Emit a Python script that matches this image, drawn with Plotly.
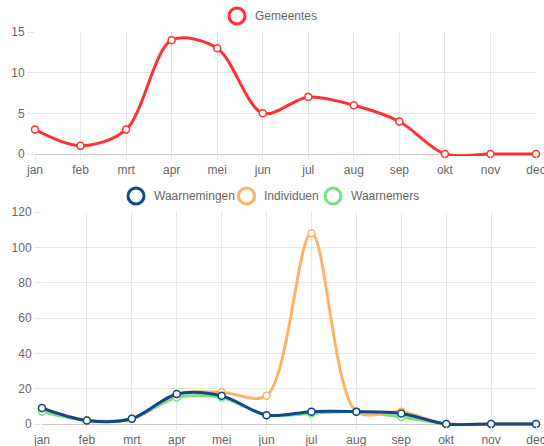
import plotly.graph_objects as go

months = ["jan", "feb", "mrt", "apr", "mei", "jun", "jul", "aug", "sep", "okt", "nov", "dec"]
gemeentes = [3, 1, 3, 14, 13, 5, 7, 6, 4, 0, 0, 0]
waarnemingen = [9, 2, 3, 17, 16, 5, 7, 7, 6, 0, 0, 0]
individuen = [9, 2, 3, 17, 18, 16, 108, 7, 7, 0, 0, 0]
waarnemers = [7, 2, 3, 15, 15, 5, 6, 7, 4, 0, 0, 0]

top_legend = ["Gemeentes"]
bottom_legend = ["Waarnemingen", "Individuen", "Waarnemers"]

RED = "#ff3030"
BLUE = "#0b4a8b"
ORANGE = "#ffb266"
GREEN = "#80dc80"
GRID = "#e6e6e6"
FONT = "Liberation Sans"
TXT = "#666666"

W = 544.0
H = 446.0


def px(x):
    return x / W


def py(y):
    return 1 - y / H


fig = go.Figure()


def line(x, y, color, xa, ya):
    return go.Scatter(
        x=x, y=y, mode="lines+markers", xaxis=xa, yaxis=ya,
        line=dict(color=color, width=3, shape="spline", smoothing=0.9),
        marker=dict(size=7, color="white", line=dict(color=color, width=1.5)),
        showlegend=False, cliponaxis=False, hoverinfo="x+y",
    )


fig.add_trace(line(months, gemeentes, RED, "x", "y"))
fig.add_trace(line(months, waarnemers, GREEN, "x2", "y2"))
fig.add_trace(line(months, individuen, ORANGE, "x2", "y2"))
fig.add_trace(line(months, waarnemingen, BLUE, "x2", "y2"))

# manual legends (Chart.js style hollow circles)
legend_items = [
    (top_legend[0], RED, 237, 16, 253),
    (bottom_legend[0], BLUE, 136, 196, 152),
    (bottom_legend[1], ORANGE, 246.5, 196, 262),
    (bottom_legend[2], GREEN, 333, 196, 349),
]
shapes = []
annotations = []
for name, color, cx, cy, tx in legend_items:
    shapes.append(dict(
        type="circle", xref="paper", yref="paper", xsizemode="pixel", ysizemode="pixel",
        xanchor=px(cx), yanchor=py(cy), x0=-8, x1=8, y0=-8, y1=8,
        line=dict(color=color, width=3), fillcolor="rgba(0,0,0,0)",
    ))
    annotations.append(dict(
        text=name, xref="paper", yref="paper", x=px(tx), y=py(cy),
        xanchor="left", yanchor="middle", showarrow=False,
        font=dict(family=FONT, size=12, color=TXT),
    ))

axis_common = dict(
    showgrid=True, gridcolor=GRID, gridwidth=1,
    ticks="outside", tickcolor=GRID,
    tickfont=dict(family=FONT, size=12, color=TXT),
    showline=False, zeroline=False, fixedrange=True, automargin=False,
)
xax = {**axis_common, "ticklen": 3}
yax = {**axis_common, "ticklen": 7, "zeroline": True, "zerolinecolor": "#c8c8c8",
       "zerolinewidth": 1}

# extend each plot area 2px below the zero line so lines at 0 are not half clipped
PAD = 2
top_min = -PAD * 15 / (154 - 32)
bot_min = -PAD * 120 / (424 - 212)

fig.update_layout(
    width=int(W), height=int(H),
    margin=dict(l=0, r=0, t=0, b=0, autoexpand=False),
    paper_bgcolor="white", plot_bgcolor="white",
    font=dict(family=FONT, size=12, color=TXT),
    showlegend=False,
    xaxis=dict(domain=[px(35), px(536)], anchor="y", type="category",
               range=[0, 11], **xax),
    yaxis=dict(domain=[py(154 + PAD), py(32)], anchor="x", range=[top_min, 15],
               tickvals=[0, 5, 10, 15], **yax),
    xaxis2=dict(domain=[px(42), px(536)], anchor="y2", type="category",
                range=[0, 11], **xax),
    yaxis2=dict(domain=[py(424 + PAD), py(212)], anchor="x2", range=[bot_min, 120],
                tickvals=[0, 20, 40, 60, 80, 100, 120], **yax),
    shapes=shapes,
    annotations=annotations,
)

fig.write_html(
    "out.html",
    config={"displayModeBar": False},
    post_script="document.body.style.margin='0px';"
                "document.documentElement.style.overflow='hidden';",
)
